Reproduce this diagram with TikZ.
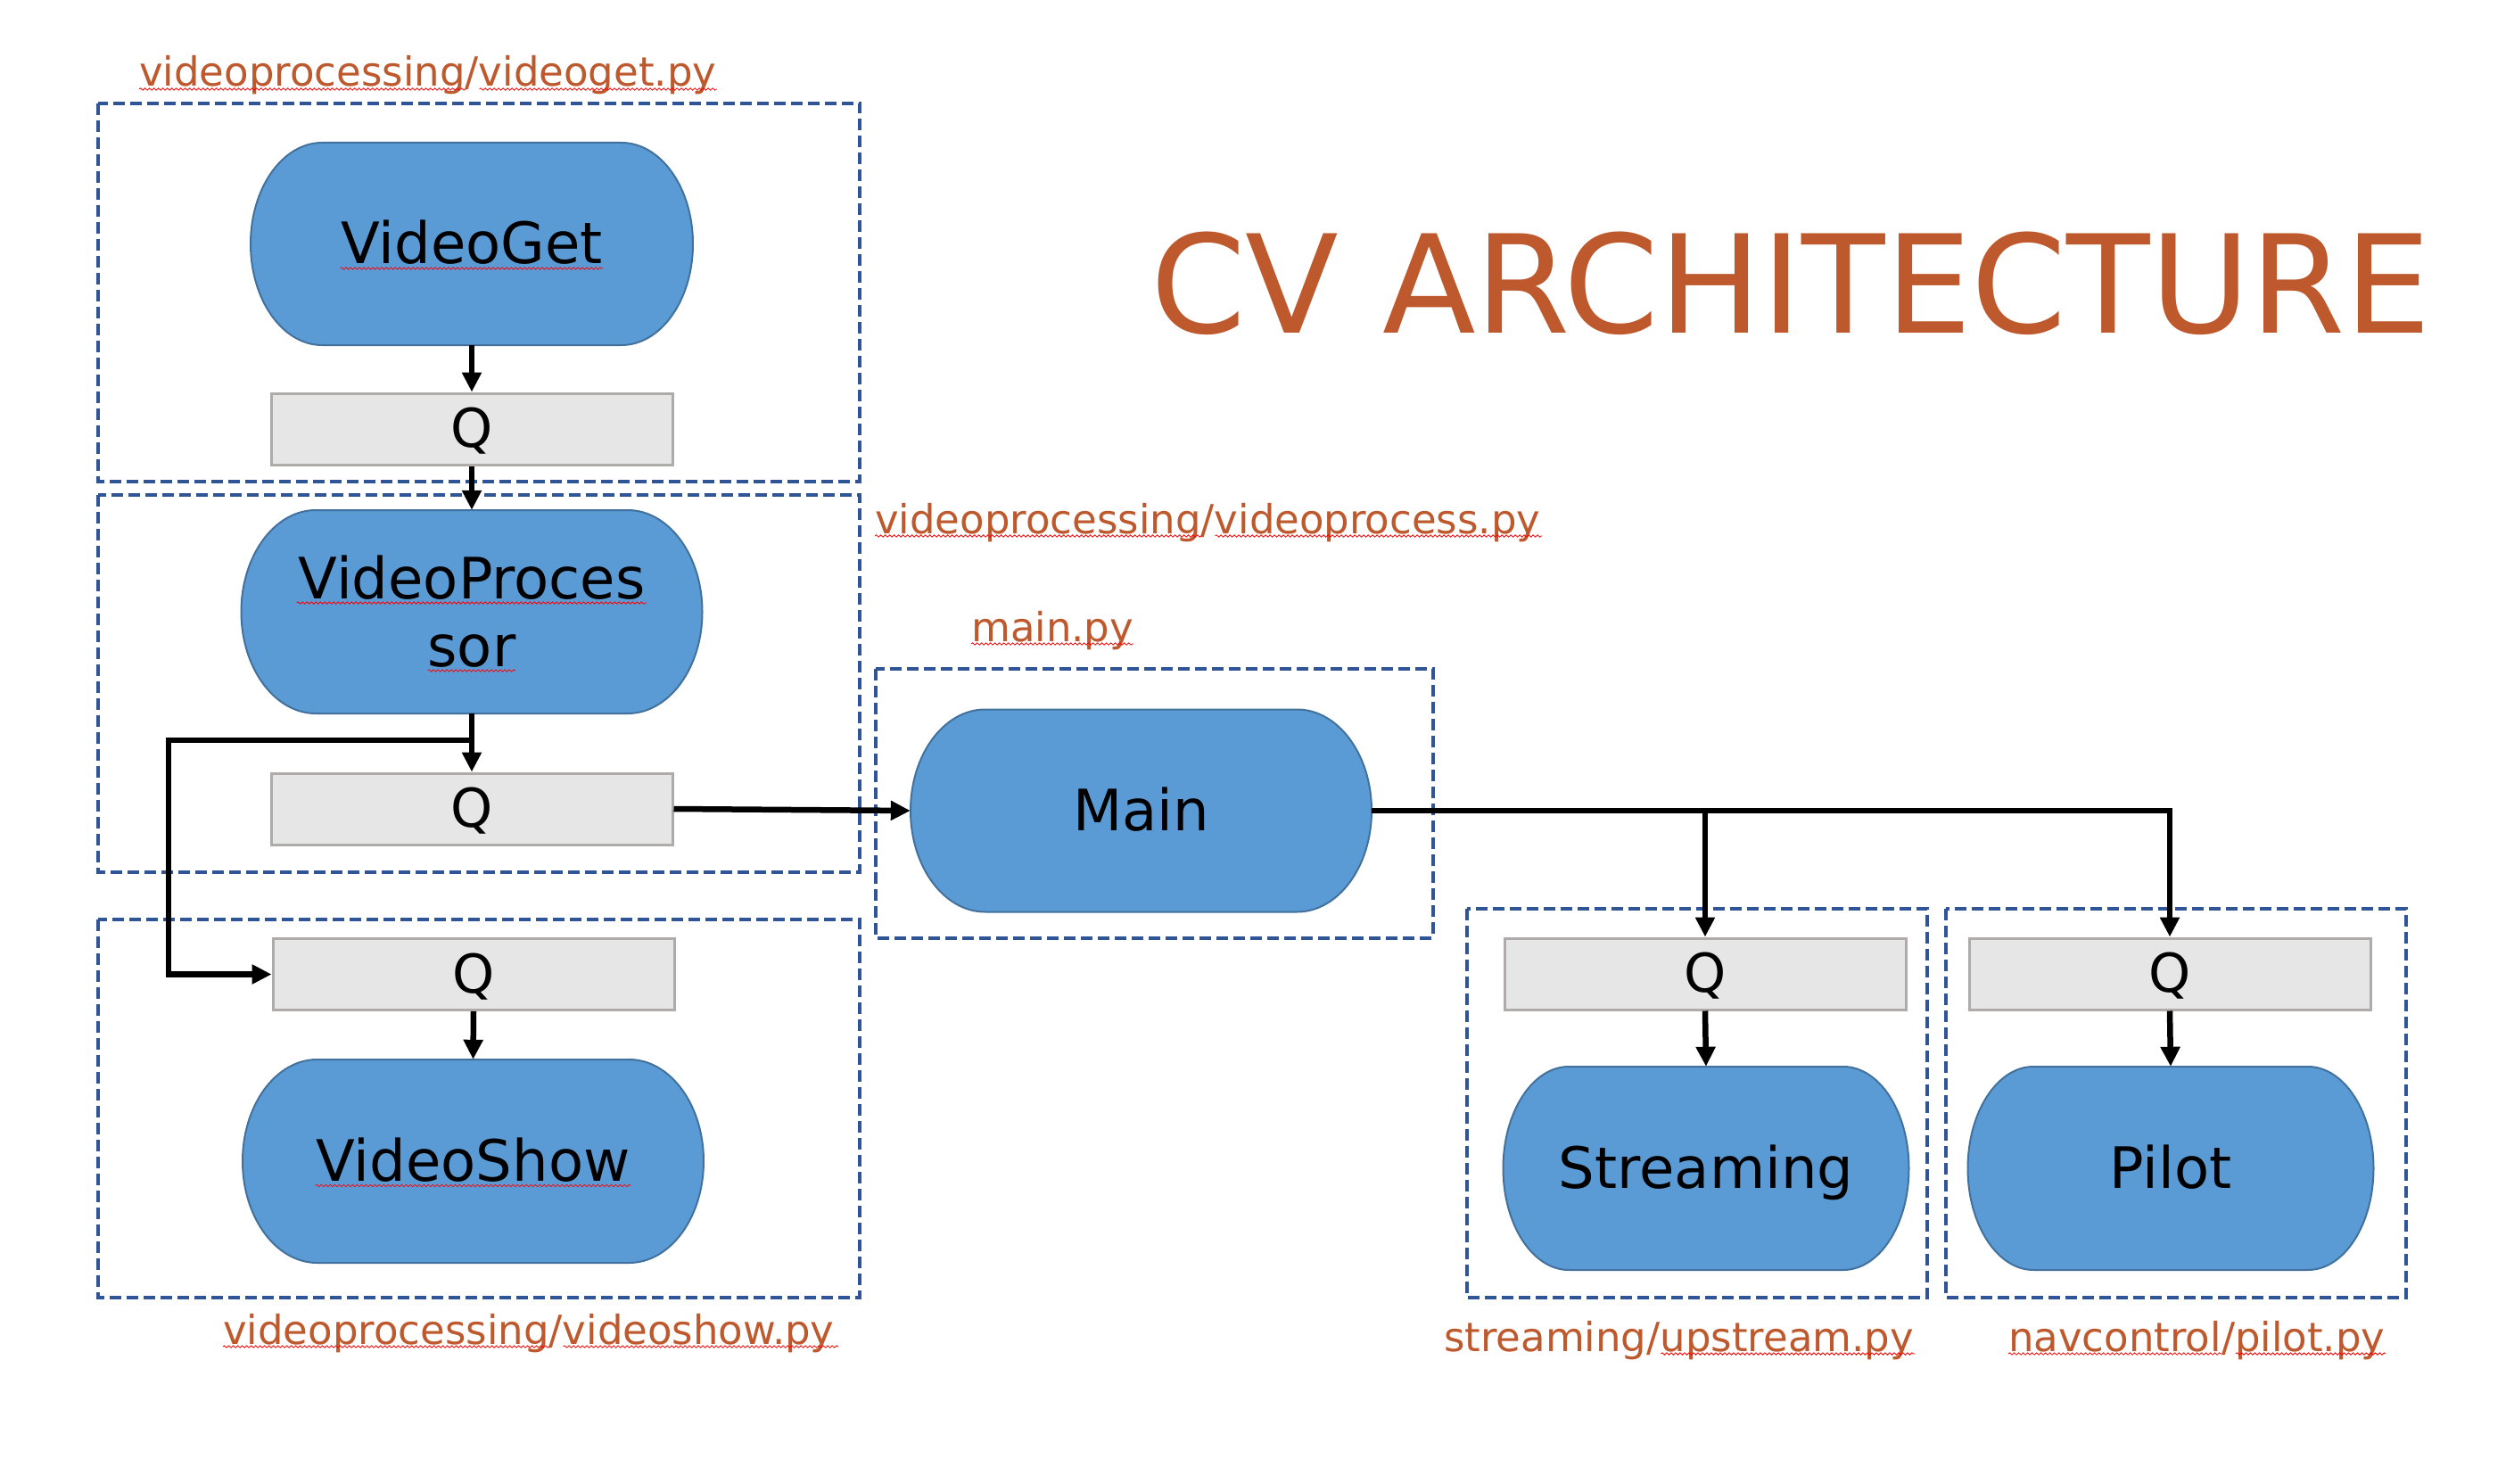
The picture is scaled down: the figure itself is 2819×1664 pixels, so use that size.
\documentclass[tikz,border=0pt]{standalone}
\usepackage{fontspec}
\setmainfont{DejaVu Sans}
\usetikzlibrary{arrows.meta,decorations.pathmorphing}
\definecolor{termfill}{HTML}{5B9BD5}
\definecolor{termline}{HTML}{41719C}
\definecolor{qfill}{HTML}{E6E6E6}
\definecolor{qline}{HTML}{AFABAB}
\definecolor{boxblue}{HTML}{2F5597}
\definecolor{rust}{RGB}{190,88,45}
% name, cx, cy (pixels, downward), w, h, extra options, text
\newcommand\termnode[7]{%
  \pgfmathsetmacro\tRx{0.1618*#4}%
  \pgfmathsetmacro\tRy{#5/2}%
  \pgfmathsetmacro\tXl{#2-#4/2+\tRx}%
  \pgfmathsetmacro\tXr{#2+#4/2-\tRx}%
  \pgfmathsetmacro\tYt{-#3+\tRy}%
  \pgfmathsetmacro\tYb{-#3-\tRy}%
  \path[termshape] (\tXl,\tYt) -- (\tXr,\tYt)
     arc[start angle=90,end angle=-90,x radius=\tRx,y radius=\tRy]
     -- (\tXl,\tYb)
     arc[start angle=270,end angle=90,x radius=\tRx,y radius=\tRy] -- cycle;
  \node[termtext, minimum width=#4pt, minimum height=#5pt, #6] (#1) at (#2,-#3) {#7};%
}
\begin{document}
\begin{tikzpicture}[x=1pt,y=1pt,
  grp/.style={draw=boxblue, line width=4pt, dash pattern=on 13pt off 6pt},
  termshape/.style={fill=termfill, draw=termline, line width=2pt},
  termtext/.style={inner sep=0pt, font=\fontsize{64pt}{76pt}\selectfont, align=center},
  oneline/.style={text height=44pt, text depth=0pt},
  qbox/.style={fill=qfill, draw=qline, line width=3pt, minimum width=450pt,
    minimum height=80pt, inner sep=0pt, font=\fontsize{60pt}{72pt}\selectfont,
    text height=41pt, text depth=0pt},
  conn/.style={line width=6.5pt, -{Triangle[length=22pt,width=21pt]}},
  lbl/.style={anchor=base west, inner sep=0pt, text=rust,
    font=\fontsize{45pt}{54pt}\selectfont},
  squig/.style={draw=red, line width=0.8pt, decorate,
    decoration={snake, amplitude=1.2pt, segment length=5pt}}
]
\useasboundingbox (0,0) rectangle (2819,-1664);

% title
\node[anchor=base, inner sep=0pt, text=rust, font=\fontsize{153pt}{160pt}\selectfont]
  (title) at (2008,-373) {CV ARCHITECTURE};

% group frames
\draw[grp] (110,-115.7) rectangle (964,-540);
\draw[grp] (110,-554.6) rectangle (964,-978);
\draw[grp] (110,-1031) rectangle (964,-1455);
\draw[grp] (982,-750) rectangle (1607,-1051.7);
\draw[grp] (1645,-1019) rectangle (2161,-1455);
\draw[grp] (2182,-1019) rectangle (2698,-1455);

% file labels
\node[lbl] (lget) at (156,-97) {videoprocessing/videoget.py};
\node[lbl] (lproc) at (981,-598) {videoprocessing/videoprocess.py};
\node[lbl] (lmain) at (1089,-719) {main.py};
\node[lbl] (lshow) at (250,-1507) {videoprocessing/videoshow.py};
\node[lbl] (lup) at (1619,-1515) {streaming/upstream.py};
\node[lbl] (lpil) at (2252,-1515) {navcontrol/pilot.py};

% spell-check squiggles under labels
\draw[squig] ([yshift=-3pt]lget.base west) -- ++(366.4,0);
\draw[squig] ([yshift=-3pt,xshift=381.6pt]lget.base west) -- ++(266.3,0);
\draw[squig] ([yshift=-3pt]lproc.base west) -- ++(366.4,0);
\draw[squig] ([yshift=-3pt,xshift=381.6pt]lproc.base west) -- ++(366.3,0);
\draw[squig] ([yshift=-3pt]lmain.base west) -- ++(181.9,0);
\draw[squig] ([yshift=-3pt]lshow.base west) -- ++(366.4,0);
\draw[squig] ([yshift=-3pt,xshift=381.6pt]lshow.base west) -- ++(308.7,0);
\draw[squig] ([yshift=-3pt,xshift=243.4pt]lup.base west) -- ++(285.3,0);
\draw[squig] ([yshift=-3pt]lpil.base west) -- ++(239.7,0);
\draw[squig] ([yshift=-3pt,xshift=254.9pt]lpil.base west) -- ++(168.2,0);

% process shapes
\termnode{vg}{529}{273.5}{496}{227}{oneline}{VideoGet}
\termnode{vp}{529}{686}{517}{228}{}{VideoProces\\sor}
\termnode{vs}{530.5}{1302}{517}{228}{oneline}{VideoShow}
\termnode{mn}{1279.5}{909}{517}{227}{oneline}{Main}
\termnode{st}{1913}{1310}{455}{228}{oneline}{Streaming}
\termnode{pi}{2434}{1310}{455}{228}{oneline}{Pilot}

% squiggles under process names
\draw[squig] (381.6,-301) -- (676.4,-301);
\draw[squig] (332.7,-676) -- (725.3,-676);
\draw[squig] (479.6,-752) -- (578.4,-752);
\draw[squig] (353.8,-1329.5) -- (707.2,-1329.5);

% queues
\node[qbox] (q1) at (529,-481) {Q};
\node[qbox] (q2) at (529,-907) {Q};
\node[qbox] (q3) at (531,-1092.5) {Q};
\node[qbox] (qs) at (1912,-1092) {Q};
\node[qbox] (qp) at (2433,-1092) {Q};

% connectors
\draw[conn] (vg.south) -- (q1.north);
\draw[conn] (q1.south) -- (vp.north);
\draw[conn] (vp.south) -- (q2.north);
\coordinate (j1) at (529,-830);
\coordinate (k1) at (189,-830);
\draw[conn] (j1) -- (k1) |- (q3.west);
\draw[conn] (q3.south) -- (vs.north);
\draw[conn] (q2.east) -- (mn.west);
\draw[conn] (mn.east) -| (qp.north);
\coordinate (j2) at (mn.east -| qs.north);
\draw[conn] (j2) -- (qs.north);
\draw[conn] (qs.south) -- (st.north);
\draw[conn] (qp.south) -- (pi.north);
\end{tikzpicture}
\end{document}
